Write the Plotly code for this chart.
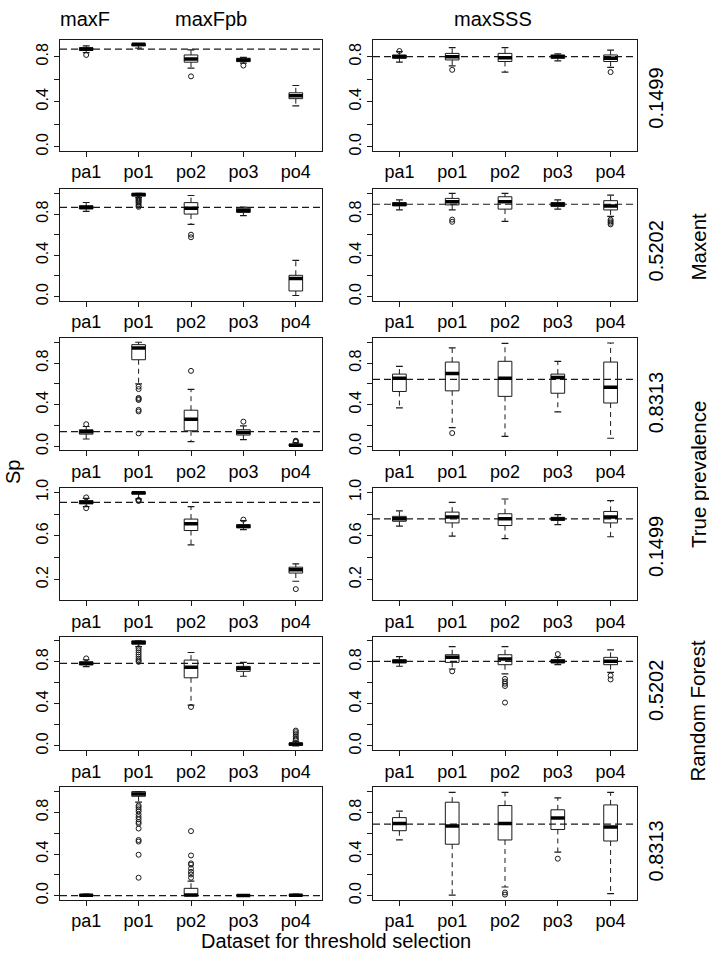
import plotly.graph_objects as go

categories = ["pa1", "po1", "po2", "po3", "po4"]
positions = [1, 2, 3, 4, 5]
column_titles = ["maxF", "maxFpb", "maxSSS"]
prevalence_labels = ["0.1499", "0.5202", "0.8313", "0.1499", "0.5202", "0.8313"]
model_labels = ["Maxent", "True prevalence", "Random Forest"]
y_title = "Sp"
x_title = "Dataset for threshold selection"

# ---- Row 1 (Maxent, 0.1499) ----
P1L_low = [0.835, 0.875, 0.698, 0.742, 0.363]
P1L_q1 = [0.855, 0.895, 0.751, 0.756, 0.427]
P1L_med = [0.867, 0.910, 0.780, 0.771, 0.453]
P1L_q3 = [0.879, 0.915, 0.815, 0.786, 0.479]
P1L_high = [0.896, 0.915, 0.861, 0.794, 0.544]
P1L_out = [[0.815], [], [0.625], [0.721], []]
P1L_ref = 0.867

P1R_low = [0.751, 0.718, 0.663, 0.762, 0.704]
P1R_q1 = [0.786, 0.771, 0.757, 0.786, 0.757]
P1R_med = [0.800, 0.800, 0.790, 0.800, 0.786]
P1R_q3 = [0.815, 0.829, 0.829, 0.815, 0.815]
P1R_high = [0.844, 0.881, 0.881, 0.824, 0.858]
P1R_out = [[0.85], [0.683], [], [], [0.663]]
P1R_ref = 0.800

# ---- Row 2 (Maxent, 0.5202) ----
P2L_low = [0.827, 0.960, 0.700, 0.784, 0.010]
P2L_q1 = [0.849, 0.975, 0.800, 0.816, 0.054]
P2L_med = [0.865, 0.990, 0.857, 0.835, 0.175]
P2L_q3 = [0.880, 1.000, 0.911, 0.857, 0.206]
P2L_high = [0.912, 1.000, 0.980, 0.867, 0.350]
P2L_out = [[], [0.95, 0.94, 0.93, 0.92, 0.91, 0.895, 0.88, 0.87], [0.60, 0.575], [], []]
P2L_ref = 0.865

P2R_low = [0.840, 0.840, 0.730, 0.848, 0.778]
P2R_q1 = [0.879, 0.889, 0.848, 0.873, 0.840]
P2R_med = [0.895, 0.920, 0.920, 0.895, 0.879]
P2R_q3 = [0.911, 0.952, 0.968, 0.911, 0.930]
P2R_high = [0.937, 1.000, 1.000, 0.937, 0.984]
P2R_out = [[], [0.746, 0.725], [], [], [0.745, 0.73, 0.715, 0.70]]
P2R_ref = 0.895

# ---- Row 3 (Maxent, 0.8313) ----
P3L_low = [0.070, 0.600, 0.045, 0.064, 0.000]
P3L_q1 = [0.117, 0.832, 0.149, 0.108, 0.003]
P3L_med = [0.140, 0.945, 0.260, 0.133, 0.010]
P3L_q3 = [0.159, 0.977, 0.347, 0.159, 0.020]
P3L_high = [0.190, 1.000, 0.548, 0.196, 0.035]
P3L_out = [[0.212], [0.574, 0.55, 0.465, 0.455, 0.445, 0.35, 0.335, 0.124], [0.725], [0.237], [0.042, 0.048, 0.054]]
P3L_ref = 0.140

P3R_low = [0.370, 0.180, 0.096, 0.330, 0.077]
P3R_q1 = [0.527, 0.533, 0.480, 0.510, 0.416]
P3R_med = [0.653, 0.700, 0.653, 0.662, 0.568]
P3R_q3 = [0.694, 0.810, 0.817, 0.694, 0.810]
P3R_high = [0.769, 0.946, 0.990, 0.817, 0.993]
P3R_out = [[], [0.127], [], [], []]
P3R_ref = 0.643

# ---- Row 4 (Random Forest, 0.1499) ----
P4L_low = [0.869, 0.940, 0.518, 0.658, 0.184]
P4L_q1 = [0.893, 0.983, 0.649, 0.673, 0.259]
P4L_med = [0.908, 0.995, 0.712, 0.688, 0.289]
P4L_q3 = [0.923, 1.000, 0.754, 0.703, 0.313]
P4L_high = [0.944, 1.000, 0.869, 0.740, 0.343]
P4L_out = [[0.953, 0.854], [0.93, 0.925, 0.92], [], [0.749], [0.112]]
P4L_ref = 0.908

P4R_low = [0.689, 0.598, 0.574, 0.704, 0.592]
P4R_q1 = [0.734, 0.719, 0.695, 0.743, 0.719]
P4R_med = [0.758, 0.773, 0.758, 0.755, 0.773]
P4R_q3 = [0.779, 0.818, 0.803, 0.770, 0.824]
P4R_high = [0.830, 0.908, 0.938, 0.794, 0.923]
P4R_out = [[], [], [], [], []]
P4R_ref = 0.755

# ---- Row 5 (Random Forest, 0.5202) ----
P5L_low = [0.754, 0.946, 0.387, 0.663, 0.000]
P5L_q1 = [0.770, 0.968, 0.648, 0.710, 0.004]
P5L_med = [0.786, 0.984, 0.748, 0.739, 0.017]
P5L_q3 = [0.800, 1.000, 0.817, 0.757, 0.026]
P5L_high = [0.820, 1.000, 0.889, 0.795, 0.042]
P5L_out = [[0.833], [0.93, 0.91, 0.89, 0.87, 0.85, 0.83, 0.815, 0.80], [0.37], [], [0.058, 0.073, 0.089, 0.111, 0.13, 0.145]]
P5L_ref = 0.786

P5R_low = [0.758, 0.732, 0.685, 0.773, 0.700]
P5R_q1 = [0.789, 0.795, 0.773, 0.789, 0.773]
P5R_med = [0.805, 0.843, 0.827, 0.805, 0.805]
P5R_q3 = [0.820, 0.868, 0.868, 0.820, 0.843]
P5R_high = [0.849, 0.946, 0.946, 0.843, 0.915]
P5R_out = [[], [0.71], [0.638, 0.613, 0.592, 0.57, 0.412], [0.874], [0.67, 0.632]]
P5R_ref = 0.805

# ---- Row 6 (Random Forest, 0.8313) ----
P6L_low = [0.000, 0.898, 0.000, 0.000, 0.000]
P6L_q1 = [0.000, 0.955, 0.000, 0.000, 0.000]
P6L_med = [0.003, 0.977, 0.007, 0.002, 0.003]
P6L_q3 = [0.010, 1.000, 0.070, 0.006, 0.010]
P6L_high = [0.015, 1.000, 0.140, 0.008, 0.015]
P6L_out = [[], [0.866, 0.85, 0.83, 0.81, 0.78, 0.755, 0.733, 0.708, 0.692, 0.645, 0.535, 0.52, 0.393, 0.172],
           [0.172, 0.203, 0.228, 0.26, 0.298, 0.31, 0.386, 0.62], [], []]
P6L_ref = 0.000

P6R_low = [0.535, 0.004, 0.083, 0.418, 0.020]
P6R_q1 = [0.624, 0.494, 0.535, 0.636, 0.525]
P6R_med = [0.693, 0.670, 0.693, 0.747, 0.660]
P6R_q3 = [0.750, 0.898, 0.866, 0.825, 0.872]
P6R_high = [0.813, 0.993, 0.993, 0.939, 0.993]
P6R_out = [[], [], [0.03, 0.01], [0.355], []]
P6R_ref = 0.687

row_ranges = [[-0.037, 0.952], [-0.04, 1.04], [-0.04, 1.04], [0.01, 1.04], [-0.04, 1.04], [-0.04, 1.04]]

panels = [
    (0, 0, P1L_low, P1L_q1, P1L_med, P1L_q3, P1L_high, P1L_out, P1L_ref),
    (0, 1, P1R_low, P1R_q1, P1R_med, P1R_q3, P1R_high, P1R_out, P1R_ref),
    (1, 0, P2L_low, P2L_q1, P2L_med, P2L_q3, P2L_high, P2L_out, P2L_ref),
    (1, 1, P2R_low, P2R_q1, P2R_med, P2R_q3, P2R_high, P2R_out, P2R_ref),
    (2, 0, P3L_low, P3L_q1, P3L_med, P3L_q3, P3L_high, P3L_out, P3L_ref),
    (2, 1, P3R_low, P3R_q1, P3R_med, P3R_q3, P3R_high, P3R_out, P3R_ref),
    (3, 0, P4L_low, P4L_q1, P4L_med, P4L_q3, P4L_high, P4L_out, P4L_ref),
    (3, 1, P4R_low, P4R_q1, P4R_med, P4R_q3, P4R_high, P4R_out, P4R_ref),
    (4, 0, P5L_low, P5L_q1, P5L_med, P5L_q3, P5L_high, P5L_out, P5L_ref),
    (4, 1, P5R_low, P5R_q1, P5R_med, P5R_q3, P5R_high, P5R_out, P5R_ref),
    (5, 0, P6L_low, P6L_q1, P6L_med, P6L_q3, P6L_high, P6L_out, P6L_ref),
    (5, 1, P6R_low, P6R_q1, P6R_med, P6R_q3, P6R_high, P6R_out, P6R_ref),
]

# ---- layout geometry (pixels) ----
W, H = 709, 957
FONT = "Liberation Sans, Arial, Helvetica, sans-serif"
INK = "#1a1a1a"
col_px = [(60, 322), (373, 637)]
row_px = [(31, 144), (183, 296), (334, 448), (486, 600), (637, 752), (790, 904)]
BOX_W = 0.26
CAP_HALF = 0.065

fig = go.Figure()
layout_axes = {}

for k, (r, c, low, q1, med, q3, high, outs, ref) in enumerate(panels, start=1):
    xa = "x" if k == 1 else f"x{k}"
    ya = "y" if k == 1 else f"y{k}"
    # reference dashed line
    fig.add_trace(go.Scatter(x=[0.5, 5.5], y=[ref, ref], mode="lines", xaxis=xa, yaxis=ya,
                             line=dict(color=INK, width=1.2, dash="7px,4px"),
                             hoverinfo="skip", showlegend=False))
    wx, wy, cx, cy, mx, my = [], [], [], [], [], []
    for p, lo, a, m, b, hi in zip(positions, low, q1, med, q3, high):
        wx += [p, p, None, p, p, None]
        wy += [b, hi, None, a, lo, None]
        cx += [p - CAP_HALF, p + CAP_HALF, None, p - CAP_HALF, p + CAP_HALF, None]
        cy += [hi, hi, None, lo, lo, None]
        mx += [p - BOX_W / 2, p + BOX_W / 2, None]
        my += [m, m, None]
    # whiskers (dashed)
    fig.add_trace(go.Scatter(x=wx, y=wy, mode="lines", xaxis=xa, yaxis=ya,
                             line=dict(color=INK, width=1, dash="5px,4px"),
                             hoverinfo="skip", showlegend=False))
    # whisker caps
    fig.add_trace(go.Scatter(x=cx, y=cy, mode="lines", xaxis=xa, yaxis=ya,
                             line=dict(color=INK, width=1.2),
                             hoverinfo="skip", showlegend=False))
    # box bodies
    fig.add_trace(go.Box(x=positions, q1=q1, median=med, q3=q3, lowerfence=q1, upperfence=q3,
                         width=BOX_W, fillcolor="white", line=dict(color=INK, width=1),
                         boxpoints=False, whiskerwidth=0, xaxis=xa, yaxis=ya,
                         hoverinfo="skip", showlegend=False))
    # thick medians
    fig.add_trace(go.Scatter(x=mx, y=my, mode="lines", xaxis=xa, yaxis=ya,
                             line=dict(color="black", width=3.5),
                             hoverinfo="skip", showlegend=False))
    # outliers
    ox, oy = [], []
    for p, ol in zip(positions, outs):
        for v in ol:
            ox.append(p)
            oy.append(v)
    if ox:
        fig.add_trace(go.Scatter(x=ox, y=oy, mode="markers", xaxis=xa, yaxis=ya,
                                 marker=dict(symbol="circle-open", size=5, color=INK, line=dict(width=1)),
                                 hoverinfo="skip", showlegend=False))

    x0, x1 = col_px[c]
    y0, y1 = row_px[r]
    rng = row_ranges[r]
    if rng[0] > 0:
        tv = [0.2, 0.4, 0.6, 0.8, 1.0]
        tt = ["0.2", "", "0.6", "", "1.0"]
    else:
        tv = [t for t in [0.0, 0.2, 0.4, 0.6, 0.8, 1.0] if rng[0] <= t <= rng[1]]
        tt = [{0.0: "0.0", 0.4: "0.4", 0.8: "0.8"}.get(t, "") for t in tv]
    axis_common = dict(showline=True, linecolor=INK, linewidth=1, mirror=True,
                       ticks="outside", ticklen=5, tickcolor=INK, tickwidth=1,
                       showgrid=False, zeroline=False, fixedrange=True)
    layout_axes["xaxis" if k == 1 else f"xaxis{k}"] = dict(
        domain=[x0 / W, x1 / W], anchor=ya, range=[0.5, 5.5],
        tickmode="array", tickvals=positions, ticktext=categories,
        tickfont=dict(family=FONT, size=18, color="black"), **axis_common)
    layout_axes["yaxis" if k == 1 else f"yaxis{k}"] = dict(
        domain=[1 - y1 / H, 1 - y0 / H], anchor=xa, range=rng,
        tickmode="array", tickvals=tv, ticktext=tt, tickangle=-90,
        tickfont=dict(family=FONT, size=16, color="black"), **axis_common)

annotations = []


def add_text(text, px, py, size, angle=0):
    annotations.append(dict(text=text, x=px / W, y=1 - py / H, xref="paper", yref="paper",
                            xanchor="center", yanchor="middle", showarrow=False, textangle=angle,
                            font=dict(family=FONT, size=size, color="black")))


# column titles
for t, px in zip(column_titles, [85, 211, 493]):
    add_text(t, px, 10, 20)
# prevalence labels on the right of each row
for t, py in zip(prevalence_labels, [91, 246, 400, 546, 692, 855]):
    add_text(t, 656, py, 20, -90)
# model labels
for t, py in zip(model_labels, [241, 473, 712]):
    add_text(t, 698, py, 20.5, -90)
add_text(y_title, 13, 470, 20, -90)
add_text(x_title, 336, 946, 20)

fig.update_layout(width=W, height=H, margin=dict(l=0, r=0, t=0, b=0),
                  paper_bgcolor="white", plot_bgcolor="white", showlegend=False,
                  annotations=annotations, **layout_axes)

fig.write_html("out.html", config={"displayModeBar": False},
               post_script="document.body.style.margin='0px';document.body.style.overflow='hidden';")
